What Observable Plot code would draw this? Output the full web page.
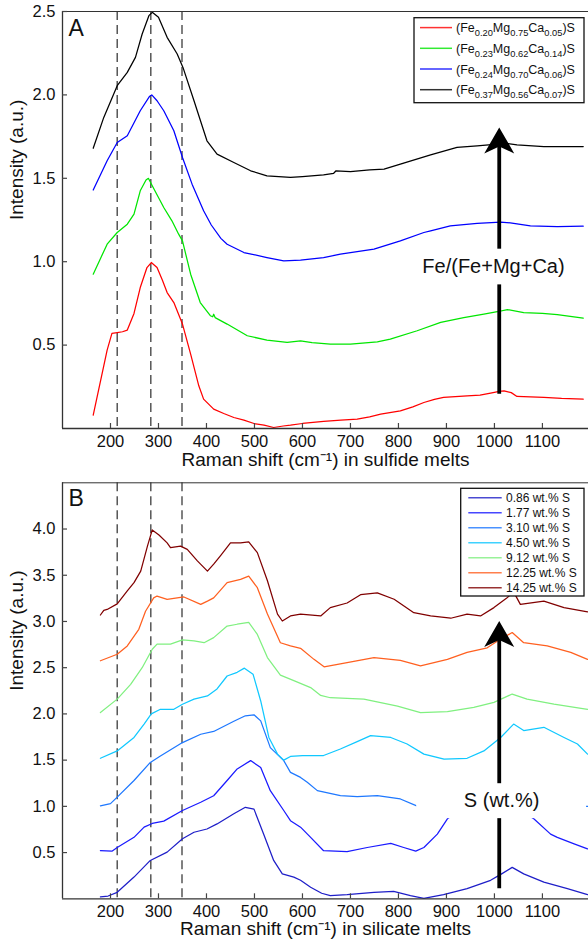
<!DOCTYPE html>
<html><head><meta charset="utf-8">
<script src="https://cdn.jsdelivr.net/npm/d3@7"></script>
<script src="https://cdn.jsdelivr.net/npm/@observablehq/plot@0.6"></script>
<style>
html,body{margin:0;padding:0;background:#fff;}
#chart svg{display:block;}
</style></head><body><div id="chart"></div>
<script>
// ---------- shared ----------
const xTicks = [200,300,400,500,600,700,800,900,1000,1100];
const dashX = [214, 284, 349];
const xLabelA = "Raman shift (cm⁻¹) in sulfide melts";
const xLabelB = "Raman shift (cm⁻¹) in silicate melts";
const yLabel = "Intensity (a.u.)";

// ---------- panel A : sulfide melts ----------
const yTicksA = [0.5,1.0,1.5,2.0,2.5];
const feA = [0.20,0.23,0.24,0.37];
const mgA = [0.75,0.62,0.70,0.56];
const caA = [0.05,0.14,0.06,0.07];
const colorsA = ["#ff0000","#00e600","#0000ff","#000000"];
const fe020 = [[164,0.08],[193,0.47],[203,0.57],[214,0.575],[225,0.58],[235,0.59],[249,0.69],[262,0.845],[276,0.965],[285,0.995],[297,0.965],[308,0.89],[318,0.815],[332,0.755],[350,0.626],[367,0.446],[384,0.256],[394,0.176],[415,0.116],[436,0.09],[457,0.066],[478,0.05],[499,0.03],[520,0.02],[540,0.006],[560,0.015],[575,0.02],[600,0.03],[644,0.042],[680,0.05],[714,0.056],[740,0.07],[763,0.086],[804,0.106],[830,0.13],[853,0.156],[875,0.175],[894,0.186],[943,0.196],[970,0.2],[992,0.212],[1010,0.222],[1020,0.226],[1035,0.215],[1047,0.192],[1075,0.19],[1103,0.186],[1140,0.18],[1185,0.176]];
const fe023 = [[164,0.925],[193,1.105],[214,1.175],[235,1.225],[249,1.285],[262,1.425],[274,1.49],[279,1.5],[287,1.455],[311,1.325],[328,1.245],[342,1.165],[350,1.125],[367,0.925],[387,0.755],[408,0.676],[413,0.67],[415,0.685],[418,0.665],[443,0.626],[485,0.556],[526,0.53],[568,0.516],[596,0.526],[620,0.515],[658,0.506],[700,0.506],[756,0.52],[783,0.536],[839,0.586],[888,0.636],[936,0.665],[978,0.686],[1006,0.70],[1027,0.713],[1061,0.695],[1100,0.69],[1131,0.682],[1185,0.662]];
const fe024 = [[164,1.43],[193,1.605],[214,1.715],[235,1.755],[262,1.905],[281,1.99],[286,2.0],[297,1.965],[311,1.905],[332,1.785],[350,1.625],[370,1.465],[394,1.305],[410,1.22],[430,1.14],[443,1.105],[478,1.055],[526,1.025],[561,1.005],[596,1.01],[644,1.025],[679,1.045],[749,1.075],[804,1.125],[853,1.175],[867,1.185],[908,1.215],[964,1.23],[1013,1.237],[1033,1.233],[1075,1.215],[1131,1.21],[1185,1.213]];
const fe037 = [[164,1.68],[186,1.865],[214,2.055],[235,2.135],[252,2.225],[266,2.365],[280,2.475],[287,2.495],[300,2.465],[318,2.345],[339,2.245],[351,2.165],[374,1.965],[401,1.725],[422,1.645],[457,1.595],[492,1.545],[526,1.515],[575,1.505],[600,1.51],[644,1.52],[665,1.53],[670,1.545],[700,1.54],[740,1.55],[770,1.555],[804,1.585],[867,1.64],[922,1.685],[964,1.695],[1006,1.705],[1025,1.71],[1047,1.70],[1103,1.69],[1185,1.69]];
const seriesA = [fe020, fe023, fe024, fe037];
const arrowA = {x: 1010, y1: 0.206, y2: 1.72, tip: 1.805};
const labelA = {text: "Fe/(Fe+Mg+Ca)", x: 998, y: 0.972, x1: 825, x2: 1171, y1: 0.861, y2: 1.075};

// ---------- panel B : silicate melts ----------
const yTicksB = [0.5,1.0,1.5,2.0,2.5,3.0,3.5,4.0];
const sB = ["0.86","1.77","3.10","4.50","9.12","12.25","14.25"];
const colorsB = ["#1e1ec8","#1a1aff","#1e78ff","#10c8ff","#80f080","#ff6020","#800000"];
const s086 = [[179,0.02],[195,0.03],[214,0.07],[249,0.235],[283,0.415],[318,0.505],[350,0.65],[374,0.72],[401,0.755],[422,0.81],[457,0.92],[481,0.99],[499,0.97],[519,0.70],[540,0.415],[558,0.27],[582,0.235],[596,0.20],[617,0.125],[640,0.06],[658,0.035],[693,0.045],[749,0.07],[790,0.08],[825,0.035],[853,0.005],[894,0.045],[943,0.11],[992,0.20],[1015,0.27],[1037,0.34],[1061,0.27],[1103,0.18],[1152,0.11],[1194,0.045]];
const s177 = [[179,0.52],[203,0.515],[214,0.555],[249,0.665],[270,0.775],[287,0.815],[311,0.84],[350,0.955],[388,1.045],[415,1.115],[443,1.28],[464,1.405],[492,1.495],[513,1.42],[533,1.17],[561,0.955],[575,0.845],[596,0.775],[617,0.665],[644,0.52],[693,0.51],[735,0.555],[784,0.60],[811,0.555],[836,0.515],[853,0.555],[881,0.70],[902,0.865],[940,1.0],[1000,1.05],[1040,1.0],[1082,0.865],[1117,0.70],[1131,0.665],[1166,0.595],[1194,0.54]];
const s310 = [[179,1.005],[200,1.03],[214,1.10],[249,1.28],[283,1.475],[304,1.545],[350,1.69],[388,1.78],[415,1.81],[457,1.92],[481,1.98],[499,1.99],[513,1.925],[533,1.635],[561,1.495],[575,1.367],[596,1.313],[610,1.26],[631,1.17],[679,1.115],[714,1.105],[756,1.115],[804,1.08],[838,1.005],[900,1.05],[1000,1.1],[1100,1.05],[1192,1.0],[1196,1.0]];
const s450 = [[179,1.52],[214,1.60],[249,1.745],[270,1.89],[285,2.0],[304,2.05],[332,2.05],[350,2.105],[374,2.16],[402,2.195],[422,2.27],[443,2.41],[464,2.45],[479,2.495],[497,2.43],[513,2.14],[530,1.745],[548,1.565],[561,1.50],[575,1.54],[600,1.55],[644,1.55],[679,1.62],[714,1.70],[742,1.765],[784,1.745],[818,1.675],[853,1.565],[895,1.51],[943,1.52],[978,1.60],[1013,1.745],[1040,1.89],[1061,1.82],[1103,1.855],[1145,1.745],[1173,1.675],[1194,1.565]];
const s912 = [[179,2.015],[214,2.16],[242,2.32],[266,2.50],[287,2.70],[297,2.755],[325,2.755],[350,2.80],[374,2.79],[395,2.77],[415,2.825],[443,2.95],[464,2.97],[488,2.99],[506,2.86],[527,2.61],[554,2.42],[582,2.36],[617,2.285],[638,2.2],[658,2.175],[728,2.16],[798,2.085],[846,2.015],[902,2.025],[957,2.07],[999,2.125],[1037,2.215],[1068,2.16],[1124,2.105],[1194,2.05]];
const s1225 = [[179,2.575],[214,2.645],[235,2.735],[259,2.915],[273,3.11],[290,3.255],[297,3.275],[318,3.24],[353,3.265],[388,3.185],[402,3.22],[415,3.255],[443,3.42],[471,3.455],[488,3.49],[506,3.365],[527,3.08],[554,2.77],[575,2.735],[596,2.71],[624,2.59],[645,2.51],[693,2.555],[749,2.61],[804,2.58],[846,2.52],[902,2.59],[943,2.665],[985,2.715],[1013,2.81],[1037,2.88],[1061,2.77],[1110,2.735],[1159,2.665],[1194,2.59]];
const s1425 = [[179,3.07],[186,3.12],[193,3.13],[214,3.19],[235,3.33],[249,3.42],[263,3.545],[277,3.815],[287,3.99],[301,3.935],[318,3.85],[325,3.80],[346,3.815],[360,3.78],[381,3.655],[402,3.545],[415,3.62],[429,3.71],[450,3.85],[471,3.85],[488,3.86],[506,3.745],[527,3.44],[548,3.08],[558,3.005],[575,3.06],[596,3.08],[638,3.06],[658,3.15],[693,3.20],[721,3.29],[756,3.31],[791,3.24],[832,3.095],[867,3.06],[909,3.035],[943,3.08],[971,3.06],[999,3.15],[1025,3.25],[1040,3.32],[1054,3.185],[1103,3.22],[1145,3.15],[1194,3.105]];
const seriesB = [s086, s177, s310, s450, s912, s1225, s1425];
const arrowB = {x: 1010, y1: 0.108, y2: 2.80, tip: 3.005};
const labelB = {text: "S (wt.%)", x: 1015, y: 1.058, x1: 838, x2: 1192, y1: 0.867, y2: 1.245};

// ---------- drawing ----------
const FONT = "'Liberation Sans', Arial, Helvetica, sans-serif";
const headSymbol = {draw(ctx) { ctx.moveTo(0,0); ctx.lineTo(15,26); ctx.lineTo(0,19); ctx.lineTo(-15,26); ctx.closePath(); }};
const X0 = 100, X1 = 1196, MARGIN_L = 62, WIDTH = 588, HEIGHT = 475, TICK = 5;

function panel({series, colors, yMax, yTicks, xLabel, letter, arrow, label, marginTop, marginBottom, xLabelDy, tickPad, letterDy}) {
  const plotH = HEIGHT - marginTop - marginBottom;
  const tickY = yMax * TICK / plotH;                       // 5px expressed in y units
  const tickX = (X1 - X0) * TICK / (WIDTH - MARGIN_L);     // 5px expressed in x units
  return Plot.plot({
    width: WIDTH, height: HEIGHT, marginLeft: MARGIN_L, marginRight: 0, marginTop, marginBottom,
    style: {fontFamily: FONT, background: "white", color: "#111"},
    x: {domain: [X0, X1]},
    y: {domain: [0, yMax]},
    marks: [
      Plot.ruleX(dashX, {stroke: "#4a4a4a", strokeWidth: 1.4, strokeDasharray: "9,5"}),
      ...series.map((s, i) => Plot.line(s, {x: d => d[0], y: d => d[1], stroke: colors[i], strokeWidth: 1.25})),
      Plot.ruleX([arrow], {x: "x", y1: "y1", y2: "y2", stroke: "black", strokeWidth: 3.8}),
      Plot.dot([arrow], {x: "x", y: "tip", symbol: headSymbol, fill: "black", stroke: "none"}),
      Plot.rect([label], {x1: "x1", x2: "x2", y1: "y1", y2: "y2", fill: "white"}),
      Plot.text([label], {x: "x", y: "y", text: "text", fontSize: 20, fill: "#111"}),
      Plot.ruleX([X0], {stroke: "#333", strokeWidth: 1.3}),
      Plot.ruleY([0], {stroke: "#333", strokeWidth: 1.3}),
      Plot.ruleY([yMax], {stroke: "#333", strokeWidth: 1}),
      Plot.ruleX(xTicks, {x: d => d, y1: 0, y2: tickY, stroke: "#444", strokeWidth: 1.2}),
      Plot.ruleY(yTicks, {y: d => d, x1: X0, x2: X0 + tickX, stroke: "#444", strokeWidth: 1.2}),
      Plot.axisX({ticks: xTicks, tickSize: 0, tickPadding: tickPad, fontSize: 16.5, label: null, tickFormat: d3.format("d")}),
      Plot.axisY({ticks: yTicks, tickSize: 0, tickPadding: 7, fontSize: 16.5, label: null, tickFormat: d3.format(".1f")}),
      Plot.text([xLabel], {text: d => d, frameAnchor: "bottom", dy: xLabelDy, fontSize: 19, fill: "#111"}),
      Plot.text([yLabel], {text: d => d, frameAnchor: "left", dx: -46, rotate: -90, fontSize: 19, fill: "#111"}),
      Plot.text([letter], {text: d => d, frameAnchor: "top-left", dx: 6, dy: letterDy, textAnchor: "start", lineAnchor: "top", fontSize: 23, fill: "#111"})
    ]
  });
}

function addLegend(svg, {x, y, w, h, rows, colors, rowY0, rowH, lx1, lx2, tx, fontSize, subSize, subShift}) {
  const g = d3.select(svg).append("g").attr("font-family", FONT).attr("text-anchor", "start");
  g.append("rect").attr("x", x).attr("y", y).attr("width", w).attr("height", h)
    .attr("fill", "white").attr("stroke", "#111").attr("stroke-width", 1.3);
  rows.forEach((parts, i) => {
    const cy = rowY0 + i * rowH;
    g.append("line").attr("x1", lx1).attr("x2", lx2).attr("y1", cy).attr("y2", cy)
      .attr("stroke", colors[i]).attr("stroke-width", 1.5).attr("opacity", 0.8);
    const t = g.append("text").attr("x", tx).attr("y", cy + fontSize * 0.36)
      .attr("text-anchor", "start").attr("font-size", fontSize).attr("fill", "#111");
    let shifted = 0;
    parts.forEach(([txt, sub]) => {
      const dy = sub ? subShift - shifted : -shifted;
      shifted = sub ? subShift : 0;
      t.append("tspan").attr("dy", dy).attr("font-size", sub ? subSize : fontSize).text(txt);
    });
  });
}

const chart = document.getElementById("chart");

const svgA = panel({series: seriesA, colors: colorsA, yMax: 2.5, yTicks: yTicksA, xLabel: xLabelA, letter: "A",
  arrow: arrowA, label: labelA, marginTop: 11, marginBottom: 47, xLabelDy: 37, tickPad: 7, letterDy: 8});
chart.appendChild(svgA);
addLegend(svgA, {x: 414, y: 17.7, w: 170, h: 85,
  rows: feA.map((f, i) => [["(Fe", false], [f.toFixed(2), true], ["Mg", false], [mgA[i].toFixed(2), true], ["Ca", false], [caA[i].toFixed(2), true], [")S", false]]),
  colors: colorsA, rowY0: 27.6, rowH: 20.7, lx1: 420, lx2: 452, tx: 456, fontSize: 12.5, subSize: 9.3, subShift: 4});

const svgB = panel({series: seriesB, colors: colorsB, yMax: 4.5, yTicks: yTicksB, xLabel: xLabelB, letter: "B",
  arrow: arrowB, label: labelB, marginTop: 7.3, marginBottom: 51.7, xLabelDy: 36, tickPad: 6, letterDy: 7});
chart.appendChild(svgB);
addLegend(svgB, {x: 460.7, y: 13.3, w: 123.3, h: 107.7,
  rows: sB.map(s => [[s + " wt.% S", false]]),
  colors: colorsB, rowY0: 22.7, rowH: 15, lx1: 468.3, lx2: 501.7, tx: 506, fontSize: 12, subSize: 9, subShift: 0});
</script></body></html>
